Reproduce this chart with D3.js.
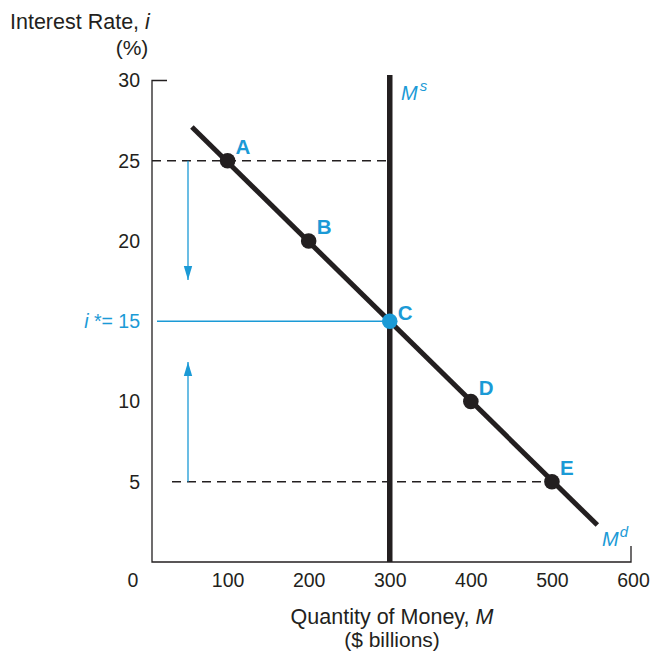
<!DOCTYPE html>
<html>
<head>
<meta charset="utf-8">
<script src="https://cdn.jsdelivr.net/npm/d3@7"></script>
<style>
  html, body { margin: 0; padding: 0; background: #fff; }
  svg { display: block; font-family: "Liberation Sans", Arial, Helvetica, sans-serif; }
</style>
</head>
<body>
<svg id="chart" width="650" height="652"></svg>
<script>
// ---- data ----
const points = ["A", "B", "C", "D", "E"];
const pointMoney = [100, 200, 300, 400, 500];
const pointRate = [25, 20, 15, 10, 5];
const demandMoney = [56, 556];
const demandRate = [27.1, 2.3];
const supplyMoney = 300;
const supplyRate = [0, 30.15];
const xTicks = [100, 200, 300, 400, 500, 600];
const yTicks = [5, 10, 20, 25, 30];
const eqRate = 15;

const blue = "#1b9ad6";
const ink = "#231f20";
const font = "Liberation Sans, Arial, sans-serif";

const svg = d3.select("#chart");
const x = d3.scaleLinear().domain([0, 600]).range([146.5, 633]);
const y = d3.scaleLinear().domain([0, 30]).range([562, 80.5]);
const axisX = 152;           // y-axis position
const axisEnd = 631;         // right end of x-axis

// axes frame
const frame = svg.append("g").attr("stroke", ink).attr("stroke-width", 1.3).attr("fill", "none");
frame.append("path").attr("d", `M${axisX + 15},${y(30)}H${axisX}V${y(0)}H${axisEnd}V${y(0) - 16}`);

// x axis tick labels
const xAxis = d3.axisBottom(x).tickValues(xTicks).tickSize(0).tickPadding(11).tickFormat(d3.format("d"));
const gx = svg.append("g").attr("transform", `translate(0,${y(0)})`).call(xAxis);
gx.select(".domain").remove();
gx.selectAll("text").attr("font-size", 19.5).attr("fill", ink).style("font-family", font);
svg.append("text").attr("x", 133).attr("y", y(0) + 11).attr("dy", "0.71em")
  .attr("text-anchor", "middle").attr("font-size", 19.5).attr("fill", ink).text("0");

// y axis tick labels
const yAxis = d3.axisLeft(y).tickValues(yTicks).tickSize(0).tickPadding(12).tickFormat(d3.format("d"));
const gy = svg.append("g").attr("transform", `translate(${axisX},0)`).call(yAxis);
gy.select(".domain").remove();
gy.selectAll("text").attr("font-size", 19.5).attr("fill", ink).style("font-family", font);

// equilibrium label
const eq = svg.append("text").attr("x", axisX - 12).attr("y", y(eqRate)).attr("dy", "0.35em")
  .attr("text-anchor", "end").attr("font-size", 19.5).attr("fill", blue);
eq.append("tspan").attr("font-style", "italic").text("i");
eq.append("tspan").text(" *= " + eqRate);

// axis titles
const yt = svg.append("text").attr("x", 10).attr("y", 29).attr("font-size", 21.5).attr("fill", ink);
yt.append("tspan").text("Interest Rate, ");
yt.append("tspan").attr("font-style", "italic").text("i");
svg.append("text").attr("x", 132).attr("y", 55).attr("text-anchor", "middle").attr("font-size", 21).attr("fill", ink).text("(%)");

const xt = svg.append("text").attr("x", 392).attr("y", 624).attr("text-anchor", "middle").attr("font-size", 21.5).attr("fill", ink);
xt.append("tspan").text("Quantity of Money, ");
xt.append("tspan").attr("font-style", "italic").text("M");
svg.append("text").attr("x", 392).attr("y", 647).attr("text-anchor", "middle").attr("font-size", 21).attr("fill", ink).text("($ billions)");

// dashed guide lines
svg.append("line").attr("x1", axisX).attr("x2", x(supplyMoney))
  .attr("y1", y(pointRate[0])).attr("y2", y(pointRate[0]))
  .attr("stroke", ink).attr("stroke-width", 1.3).attr("stroke-dasharray", "9,6");
svg.append("line").attr("x1", 172).attr("x2", x(pointMoney[4]))
  .attr("y1", y(pointRate[4])).attr("y2", y(pointRate[4]))
  .attr("stroke", ink).attr("stroke-width", 1.3).attr("stroke-dasharray", "9,6");

// equilibrium blue line
svg.append("line").attr("x1", 157).attr("x2", x(supplyMoney))
  .attr("y1", y(eqRate)).attr("y2", y(eqRate))
  .attr("stroke", blue).attr("stroke-width", 1.3);

// arrows
const defs = svg.append("defs");
defs.append("marker").attr("id", "ah").attr("viewBox", "0 0 10 10").attr("refX", 10).attr("refY", 5)
  .attr("markerWidth", 14).attr("markerHeight", 14).attr("markerUnits", "userSpaceOnUse")
  .attr("orient", "auto")
  .append("path").attr("d", "M0,2 L10,5 L0,8 Z").attr("fill", blue);
const arrowX = 188;
svg.append("line").attr("x1", arrowX).attr("x2", arrowX)
  .attr("y1", y(pointRate[0])).attr("y2", 280)
  .attr("stroke", blue).attr("stroke-width", 1.3).attr("marker-end", "url(#ah)");
svg.append("line").attr("x1", arrowX).attr("x2", arrowX)
  .attr("y1", y(pointRate[4])).attr("y2", 362)
  .attr("stroke", blue).attr("stroke-width", 1.3).attr("marker-end", "url(#ah)");

// money supply
svg.append("line").attr("x1", x(supplyMoney)).attr("x2", x(supplyMoney))
  .attr("y1", y(supplyRate[0])).attr("y2", y(supplyRate[1]) - 3)
  .attr("stroke", ink).attr("stroke-width", 5.5);

// money demand
const line = d3.line().x(d => x(d[0])).y(d => y(d[1]));
svg.append("path").datum(d3.zip(demandMoney, demandRate)).attr("d", line)
  .attr("fill", "none").attr("stroke", ink).attr("stroke-width", 5);

// points
const pts = points.map((p, k) => ({ p, m: pointMoney[k], r: pointRate[k] }));
svg.selectAll("circle.pt").data(pts).enter().append("circle")
  .attr("cx", d => x(d.m)).attr("cy", d => y(d.r)).attr("r", 7.8)
  .attr("fill", d => d.p === "C" ? blue : ink);
svg.selectAll("text.pl").data(pts).enter().append("text")
  .attr("x", d => x(d.m) + 8)
  .attr("y", d => y(d.r) - (d.p === "C" ? 1 : 7))
  .attr("font-size", 20.5).attr("font-weight", "bold").attr("fill", blue).text(d => d.p);

// curve labels
const ms = svg.append("text").attr("x", 401).attr("y", 100).attr("font-size", 20).attr("fill", blue);
ms.append("tspan").attr("font-style", "italic").text("M");
ms.append("tspan").attr("font-size", 15).attr("font-style", "italic").attr("dy", -9).attr("dx", 2).text("s");
const md = svg.append("text").attr("x", 602).attr("y", 546).attr("font-size", 20).attr("fill", blue);
md.append("tspan").attr("font-style", "italic").text("M");
md.append("tspan").attr("font-size", 15).attr("font-style", "italic").attr("dy", -9).attr("dx", 1).text("d");
</script>
</body>
</html>
